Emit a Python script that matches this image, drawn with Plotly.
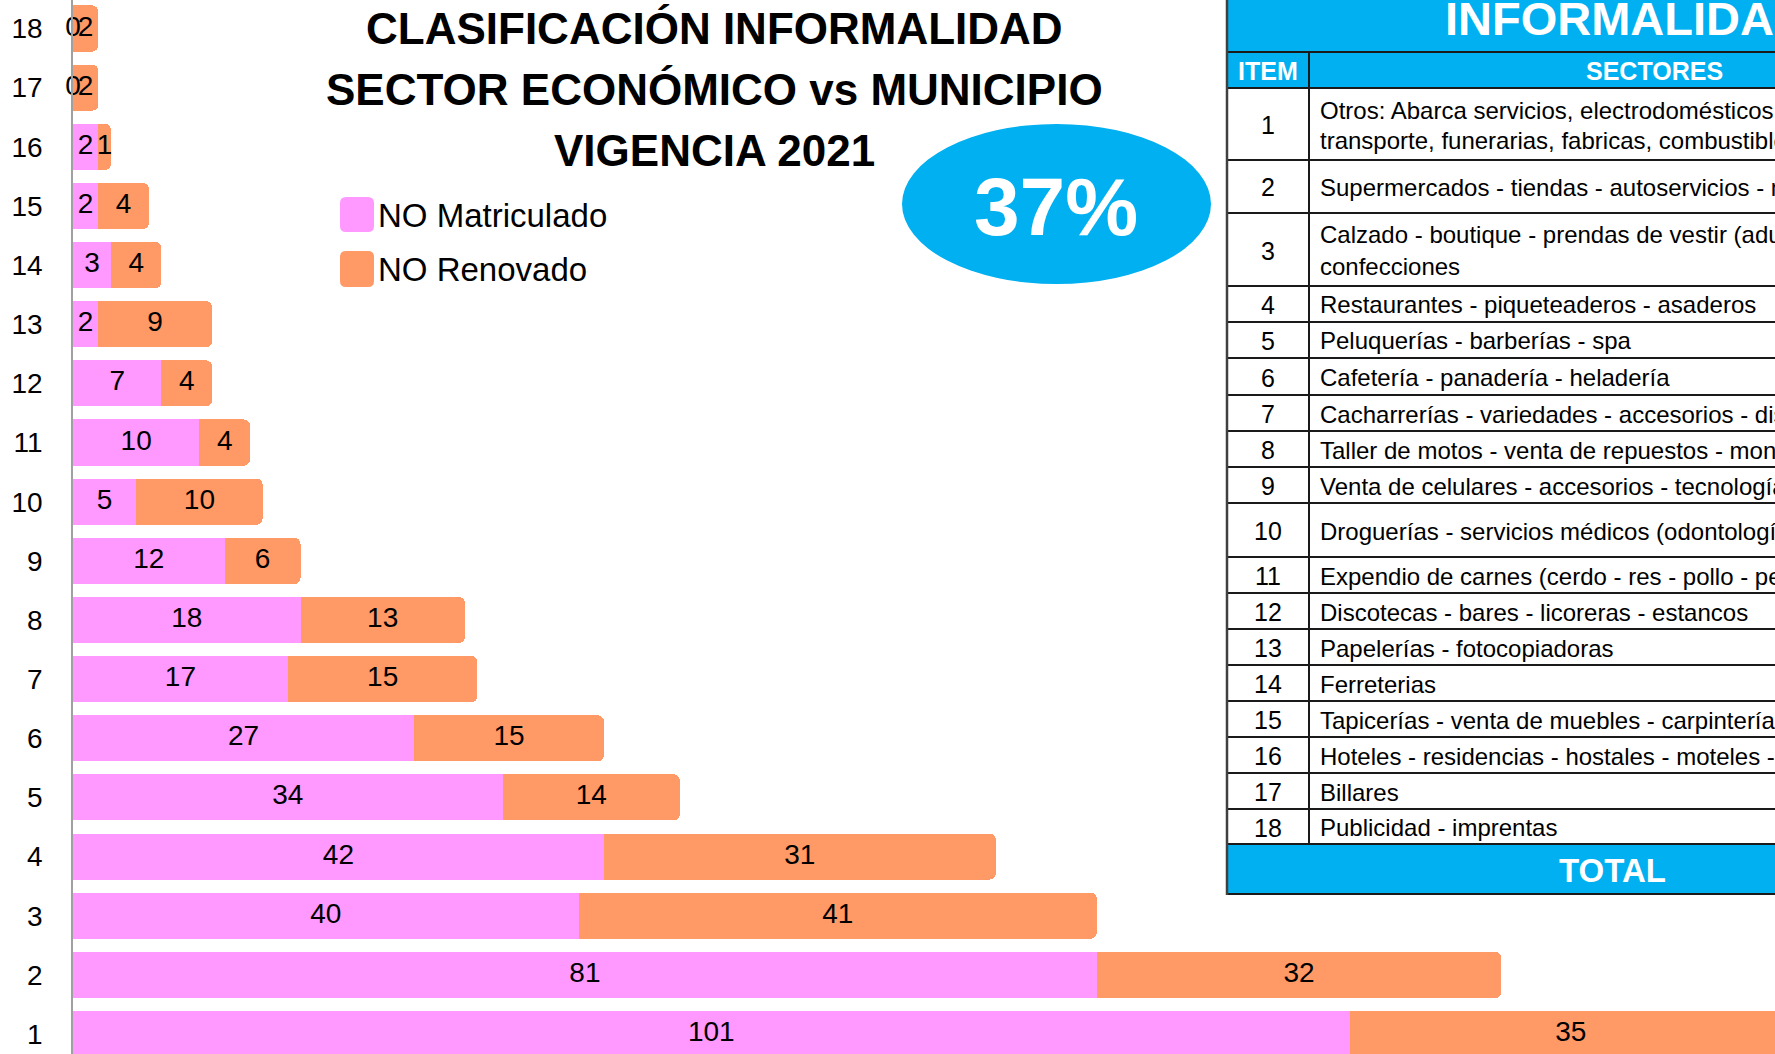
import plotly.graph_objects as go

# ---------------- data ----------------
items = list(range(1, 19))
no_matriculado = [101, 81, 40, 42, 34, 27, 17, 18, 12, 5, 10, 7, 2, 3, 2, 2, 0, 0]
no_renovado = [35, 32, 41, 31, 14, 15, 15, 13, 6, 10, 4, 4, 9, 4, 4, 1, 2, 2]
tick_labels = [str(i) for i in items]
series_names = ["NO Matriculado", "NO Renovado"]
title_lines = ["CLASIFICACIÓN INFORMALIDAD", "SECTOR ECONÓMICO vs MUNICIPIO", "VIGENCIA 2021"]
pct_text = "37%"
table_title = "INFORMALIDAD"
table_headers = ["ITEM", "SECTORES"]
total_label = "TOTAL"
sectores = [
    ["Otros: Abarca servicios, electrodomésticos,", "transporte, funerarias, fabricas, combustibles"],
    ["Supermercados - tiendas - autoservicios - minimercados"],
    ["Calzado - boutique - prendas de vestir (adultos - niños) -", "confecciones"],
    ["Restaurantes - piqueteaderos - asaderos"],
    ["Peluquerías - barberías - spa"],
    ["Cafetería - panadería - heladería"],
    ["Cacharrerías - variedades - accesorios - distribuidoras"],
    ["Taller de motos - venta de repuestos - montallantas"],
    ["Venta de celulares - accesorios - tecnología"],
    ["Droguerías - servicios médicos (odontología - ópticas)"],
    ["Expendio de carnes (cerdo - res - pollo - pescado)"],
    ["Discotecas - bares - licoreras - estancos"],
    ["Papelerías - fotocopiadoras"],
    ["Ferreterias"],
    ["Tapicerías - venta de muebles - carpintería"],
    ["Hoteles - residencias - hostales - moteles - hospedajes"],
    ["Billares"],
    ["Publicidad - imprentas"],
]

# ---------------- style ----------------
W, H = 1775, 1054
L = 73
PX_PER_UNIT = 12.64
PINK = "#FF99FF"
ORANGE = "#FF9966"
BLUE = "#00B0F0"
FONT = "Liberation Sans, Arial, sans-serif"


def px(x):
    return (x - L) / (W - L)


def py(y):
    return 1 - y / H


def rrect_path(x0, y0, x1, y1, r):
    pts = [
        ("M", [(x0 + r, y0)]), ("L", [(x1 - r, y0)]), ("Q", [(x1, y0), (x1, y0 + r)]),
        ("L", [(x1, y1 - r)]), ("Q", [(x1, y1), (x1 - r, y1)]), ("L", [(x0 + r, y1)]),
        ("Q", [(x0, y1), (x0, y1 - r)]), ("L", [(x0, y0 + r)]), ("Q", [(x0, y0), (x0 + r, y0)]),
    ]
    s = ""
    for cmd, ps in pts:
        s += cmd + " " + " ".join(f"{px(a):.6f},{py(b):.6f}" for a, b in ps) + " "
    return s + "Z"


def note(x, y, text, size, color="black", xanchor="center", yanchor="middle", **kw):
    return dict(x=px(x), y=py(y), xref="paper", yref="paper", text=text, showarrow=False,
                xanchor=xanchor, yanchor=yanchor, font=dict(family=FONT, size=size, color=color), **kw)


fig = go.Figure()
fig.add_trace(go.Bar(y=items, x=no_matriculado, orientation="h", name=series_names[0],
                     marker=dict(color=PINK, line=dict(width=0)), width=0.78, hoverinfo="skip"))
fig.add_trace(go.Bar(y=items, x=no_renovado, orientation="h", name=series_names[1],
                     marker=dict(color=ORANGE, line=dict(width=0), cornerradius=6), width=0.78,
                     hoverinfo="skip"))

# data labels centred in each segment
lab_x = [p / 2 for p in no_matriculado] + [p + o / 2 for p, o in zip(no_matriculado, no_renovado)]
lab_y = items + items
lab_t = [str(v) for v in no_matriculado] + [str(v) for v in no_renovado]
fig.add_trace(go.Scatter(x=lab_x, y=lab_y, text=lab_t, mode="text", cliponaxis=False,
                         textposition="middle center", showlegend=False, hoverinfo="skip",
                         textfont=dict(family=FONT, size=28, color="black")))

shapes = []
ann = []

# title
for txt, yc in zip(title_lines, [29, 89, 150]):
    ann.append(note(714, yc, f"<b>{txt}</b>", 44))

# legend
for name, col, (y0, y1) in zip(series_names, [PINK, ORANGE], [(197, 232), (251, 287)]):
    shapes.append(dict(type="path", xref="paper", yref="paper", path=rrect_path(340, y0, 374, y1, 6),
                       fillcolor=col, line=dict(width=0)))
    ann.append(note(376, (y0 + y1) / 2 + 1, name, 33, xanchor="left"))

# ellipse
shapes.append(dict(type="circle", xref="paper", yref="paper", x0=px(902), x1=px(1211), y0=py(284),
                   y1=py(124), fillcolor=BLUE, line=dict(width=0)))
ann.append(note(1056, 206, f"<b>{pct_text}</b>", 82, color="white"))

# table
TX0, TXD, TX1 = 1227, 1309, 1810
row_bounds = [88, 160, 213, 286, 322, 358, 395, 431, 467, 503, 557, 593, 629, 665, 701, 737, 773, 809, 844]
for (y0, y1) in [(-10, 52), (52, 88), (844, 894)]:
    shapes.append(dict(type="rect", xref="paper", yref="paper", x0=px(TX0), x1=px(TX1), y0=py(y1),
                       y1=py(y0), fillcolor=BLUE, line=dict(width=0), layer="below"))
for yb in [52] + row_bounds + [894]:
    shapes.append(dict(type="line", xref="paper", yref="paper", x0=px(TX0), x1=px(TX1), y0=py(yb),
                       y1=py(yb), line=dict(color="#1a1a1a", width=2)))
shapes.append(dict(type="line", xref="paper", yref="paper", x0=px(TXD), x1=px(TXD), y0=py(52),
                   y1=py(844), line=dict(color="#1a1a1a", width=2)))
shapes.append(dict(type="line", xref="paper", yref="paper", x0=px(TX0), x1=px(TX0), y0=py(-5),
                   y1=py(895), line=dict(color="#404040", width=2.5)))

ann.append(note(1443, 18, f"<b>{table_title}</b>", 47, color="white", xanchor="left"))
ann.append(note(1268, 71, f"<b>{table_headers[0]}</b>", 25, color="white"))
ann.append(note(1654, 71, f"<b>{table_headers[1]}</b>", 25, color="white"))
ann.append(note(1612, 870, f"<b>{total_label}</b>", 33, color="white"))

for i, lines in enumerate(sectores):
    y0, y1 = row_bounds[i], row_bounds[i + 1]
    yc = (y0 + y1) / 2
    ann.append(note(1268, yc + 1, str(items[i]), 25))
    if len(lines) == 1:
        ys = [yc + 1]
    else:
        ys = [y0 + 22, y1 - 20]
    for t, yy in zip(lines, ys):
        ann.append(note(1318, yy, t, 24, xanchor="left"))

fig.update_layout(
    width=W, height=H, autosize=False,
    margin=dict(l=L, r=0, t=0, b=0, pad=0),
    paper_bgcolor="white", plot_bgcolor="white",
    barmode="stack", showlegend=False,
    shapes=shapes, annotations=ann,
    font=dict(family=FONT),
)
fig.update_xaxes(range=[0, (W - L) / PX_PER_UNIT], visible=False, showgrid=False, zeroline=False)
fig.update_yaxes(range=[0.662, 18.482], tickvals=items, ticktext=tick_labels, showgrid=False,
                 zeroline=False, showline=True, linecolor="#A0A0A0", linewidth=1.5, ticks="",
                 ticklabelstandoff=23, automargin=False,
                 tickfont=dict(family=FONT, size=28, color="black"))

fig.write_html("out.html", config={"displayModeBar": False},
               post_script="document.body.style.margin='0';document.body.style.overflow='hidden';")
